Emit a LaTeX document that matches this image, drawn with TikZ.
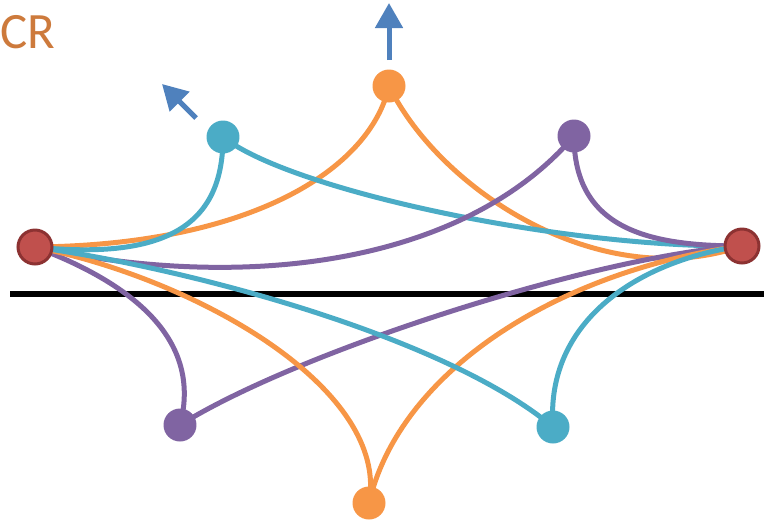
\documentclass[tikz,border=0pt]{standalone}
\usepackage{fontspec}
\newfontfamily\labelfont{Carlito}
\usetikzlibrary{arrows.meta}
\definecolor{crOrange}{RGB}{247,150,70}
\definecolor{crCyan}{RGB}{75,172,198}
\definecolor{crPurple}{RGB}{128,100,162}
\definecolor{crRed}{RGB}{192,80,77}
\definecolor{crRedDark}{RGB}{140,50,50}
\definecolor{crBlue}{RGB}{79,129,189}
\definecolor{crText}{RGB}{205,122,60}
\begin{document}
\begin{tikzpicture}[x=0.02cm, y=-0.02cm,
	bond/.style={line width=0.1cm},
	ball/.style={circle, inner sep=0pt, minimum size=0.66cm},
	pole/.style={circle, inner sep=0pt, minimum size=0.68cm, fill=crRed, draw=crRedDark, line width=0.06cm},
	push/.style={-{Triangle[width=0.54cm, length=0.5cm]}, line width=0.1cm, crBlue}]
	\useasboundingbox (0,0) rectangle (764,525);
	\node[crText, anchor=base west, inner sep=0pt, font=\labelfont\fontsize{29}{29}\selectfont] (title) at (0,48) {CR};
	\coordinate (baseline-l) at (10,294);
	\coordinate (baseline-r) at (764,294);
	\draw[line width=0.12cm] (baseline-l) -- (baseline-r);
	\coordinate (L) at (35,247);
	\coordinate (R) at (742,246);
	\coordinate (O1) at (389,86);
	\coordinate (C1) at (223,137);
	\coordinate (P1) at (574,136);
	\coordinate (P2) at (180,425);
	\coordinate (C2) at (553,427);
	\coordinate (O2) at (369,503);
	\draw[bond, crOrange] (L) .. controls (250,245) and (370,170) .. (O1);
	\draw[bond, crOrange] (O1) .. controls (440,190) and (600,295) .. (R);
	\draw[bond, crCyan] (L) .. controls (180,262) and (223,215) .. (C1);
	\draw[bond, crCyan] (C1) .. controls (290,190) and (560,248) .. (R);
	\draw[bond, crPurple] (L) .. controls (260,295) and (470,258) .. (P1);
	\draw[bond, crPurple] (P1) .. controls (574,230) and (650,246) .. (R);
	\draw[bond, crPurple] (L) .. controls (150,290) and (200,350) .. (P2);
	\draw[bond, crPurple] (P2) .. controls (300,350) and (600,255) .. (R);
	\draw[bond, crOrange] (L) .. controls (200,280) and (390,390) .. (O2);
	\draw[bond, crOrange] (O2) .. controls (400,370) and (560,270) .. (R);
	\draw[bond, crCyan] (L) .. controls (200,270) and (450,340) .. (C2);
	\draw[bond, crCyan] (C2) .. controls (545,320) and (640,260) .. (R);
	\node[pole] (left) at (L) {};
	\node[pole] (right) at (R) {};
	\node[ball, fill=crOrange] (top) at (O1) {};
	\node[ball, fill=crCyan] (topleft) at (C1) {};
	\node[ball, fill=crPurple] (topright) at (P1) {};
	\node[ball, fill=crPurple] (bottomleft) at (P2) {};
	\node[ball, fill=crCyan] (bottomright) at (C2) {};
	\node[ball, fill=crOrange] (bottom) at (O2) {};
	\coordinate (up-from) at (389,60);
	\coordinate (up-to) at (389,3);
	\coordinate (nw-from) at (196,118);
	\coordinate (nw-to) at (162,84);
	\draw[push] (up-from) -- (up-to);
	\draw[push] (nw-from) -- (nw-to);
\end{tikzpicture}
\end{document}
